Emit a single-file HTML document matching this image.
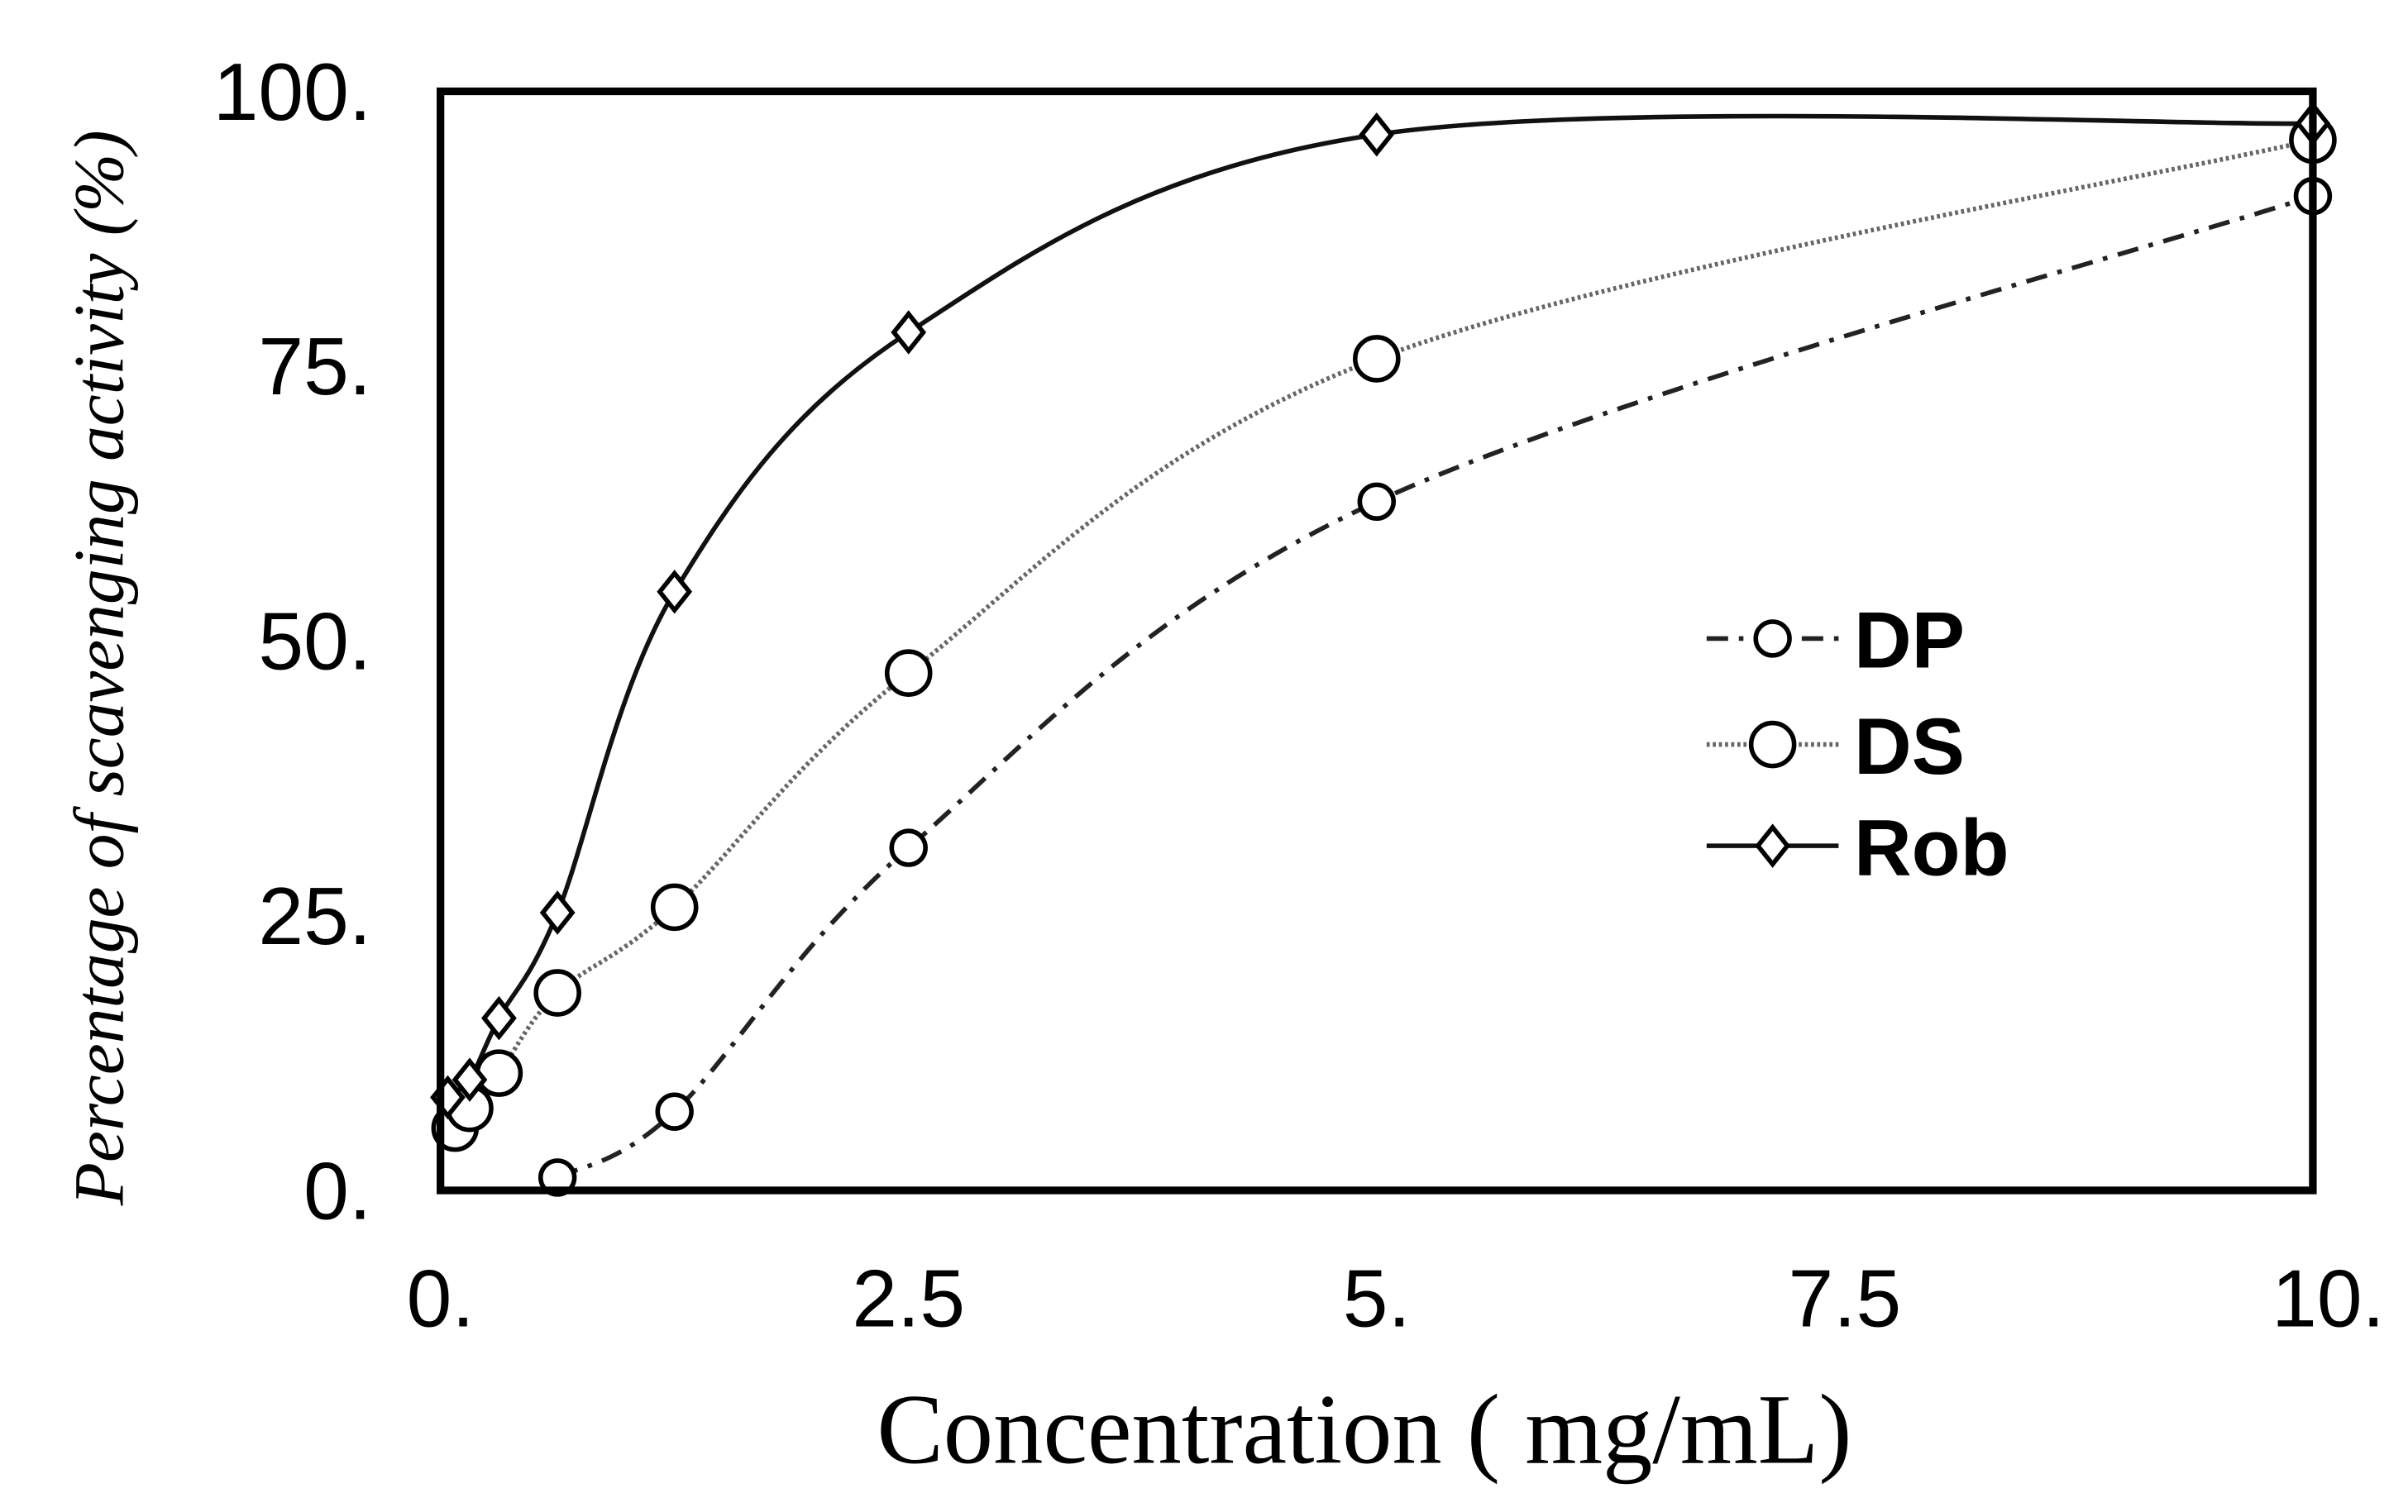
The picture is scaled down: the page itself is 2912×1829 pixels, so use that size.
<!DOCTYPE html>
<html><head><meta charset="utf-8"><style>html,body{margin:0;padding:0;background:#fff;}svg{display:block;}</style></head>
<body>
<svg id="chart" width="2912" height="1829" viewBox="0 0 1569 985" preserveAspectRatio="none" xmlns="http://www.w3.org/2000/svg">
<rect x="0" y="0" width="1569" height="985" fill="#fff"/>
<g id="marks"></g>
<rect x="287" y="59.5" width="1220" height="716" fill="none" stroke="#000" stroke-width="5"/>
<g id="ticks"></g>
<text x="889" y="953" text-anchor="middle" font-family="Liberation Serif, serif" font-size="65">Concentration ( mg/mL)</text>
<text transform="translate(80,435) rotate(-90)" text-anchor="middle" font-family="Liberation Serif, serif" font-style="italic" font-size="46">Percentage of scavenging activity (%)</text>
<g id="legend"></g>
</svg>
<script>
const xTicks = [0, 2.5, 5, 7.5, 10];
const xTickLabels = ["0.", "2.5", "5.", "7.5", "10."];
const yTicks = [0, 25, 50, 75, 100];
const yTickLabels = ["0.", "25.", "50.", "75.", "100."];
const dpX = [0.625, 1.25, 2.5, 5, 10];
const dpY = [1.1, 7.1, 31.1, 62.6, 90.4];
const dsX = [0.078, 0.156, 0.3125, 0.625, 1.25, 2.5, 5, 10];
const dsY = [5.6, 7.4, 10.6, 17.9, 25.7, 47, 75.6, 95.5];
const robX = [0.039, 0.156, 0.3125, 0.625, 1.25, 2.5, 5, 10];
const robY = [8.4, 10, 15.6, 25.2, 54.4, 78, 96, 97];

const NS = "http://www.w3.org/2000/svg";
const X0 = 287, X1 = 1507, Y0 = 775, Y1 = 59;
function sx(v){ return X0 + (v - 0) / 10 * (X1 - X0); }
function sy(v){ return Y0 - (v - 0) / 100 * (Y0 - Y1); }
function mk(tag, attrs, parent){ const e = document.createElementNS(NS, tag); for (const k in attrs) e.setAttribute(k, attrs[k]); parent.appendChild(e); return e; }
function smoothPath(xs, ys){
  const p = xs.map((x,i)=>[sx(x), sy(ys[i])]);
  let d = "M" + p[0][0] + "," + p[0][1];
  for (let i=0;i<p.length-1;i++){
    const p0 = p[i-1]||p[i], p1=p[i], p2=p[i+1], p3=p[i+2]||p2;
    const t = 1/6;
    const c1 = [p1[0]+(p2[0]-p0[0])*t, p1[1]+(p2[1]-p0[1])*t];
    const c2 = [p2[0]-(p3[0]-p1[0])*t, p2[1]-(p3[1]-p1[1])*t];
    d += " C"+c1[0]+","+c1[1]+" "+c2[0]+","+c2[1]+" "+p2[0]+","+p2[1];
  }
  return d;
}
const marks = document.getElementById("marks");
const ticks = document.getElementById("ticks");
const legend = document.getElementById("legend");

xTicks.forEach((v,i)=>{
  const t = mk("text", {x: sx(v) + (i===xTicks.length-1 ? 10 : 0), y: 864, "text-anchor":"middle", "font-family":"Liberation Sans, sans-serif", "font-size":"53"}, ticks);
  
  
  t.textContent = xTickLabels[i];
});
yTicks.forEach((v,i)=>{
  const t = mk("text", {x: 242, y: sy(v)+19, "text-anchor":"end", "font-family":"Liberation Sans, sans-serif", "font-size":"53"}, ticks);
  
  
  t.textContent = yTickLabels[i];
});

function circle(cx, cy, r, parent, name){
  const c = mk("circle", {cx, cy, r, fill:"#fff", stroke:"#000", "stroke-width":"3"}, parent);
  
  
  return c;
}
function diamond(cx, cy, s, parent, name){
  const p = mk("polygon", {points: `${cx},${cy-s} ${cx+s*0.8},${cy} ${cx},${cy+s} ${cx-s*0.8},${cy}`, fill:"#fff", stroke:"#000", "stroke-width":"3"}, parent);
  
  
  return p;
}

const lDP = mk("path", {d: smoothPath(dpX, dpY), fill:"none", stroke:"#222", "stroke-width":"3", "stroke-dasharray":"14,7,3,7"}, marks);


const lDS = mk("path", {d: smoothPath(dsX, dsY), fill:"none", stroke:"#666", "stroke-width":"3", "stroke-dasharray":"2,2"}, marks);


const lRob = mk("path", {d: smoothPath(robX, robY), fill:"none", stroke:"#111", "stroke-width":"3"}, marks);



dsX.forEach((x,i)=>circle(sx(x), sy(dsY[i]), 14, marks, 'ds-point'));
dpX.forEach((x,i)=>circle(sx(x), sy(dpY[i]), 11, marks, 'dp-point'));
robX.forEach((x,i)=>diamond(sx(x), sy(robY[i]), 12, marks, 'rob-point'));

const leg = [["DP","#222","14,7,3,7",'dp'],["DS","#666","2,2",'ds'],["Rob","#111","",'rob']];
const legY = [416, 485, 551];
leg.forEach((L,i)=>{
  const y = legY[i];
  const g = mk("g", {}, legend);
  
  
  const attrs = {x1:1112, y1:y, x2:1198, y2:y, stroke:L[1], "stroke-width":"3"};
  if (L[2]) attrs["stroke-dasharray"] = L[2];
  const ln = mk("line", attrs, g);
  
  
  if (i===0) circle(1155, y, 11, g, 'legend-marker');
  else if (i===1) circle(1155, y, 14, g, 'legend-marker');
  else diamond(1155, y, 12, g, 'legend-marker');
  const t = mk("text", {x:1208, y:y+19, "font-family":"Liberation Sans, sans-serif", "font-weight":"bold", "font-size":"52"}, g);
  
  
  t.textContent = L[0];
});
</script>
</body></html>
